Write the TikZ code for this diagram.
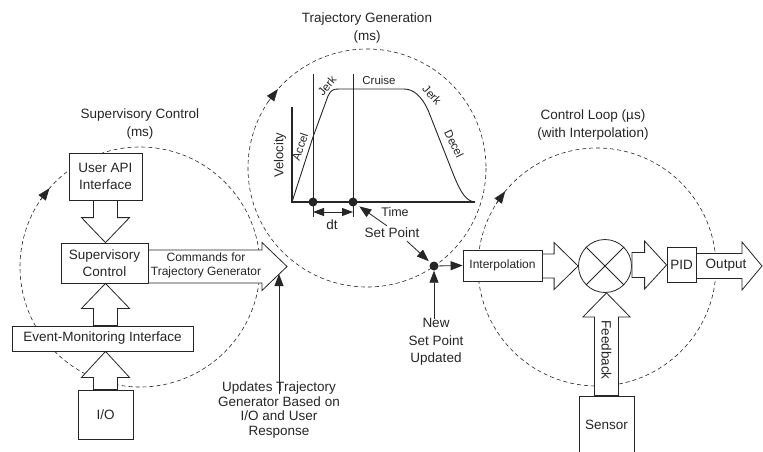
\documentclass[tikz,border=0pt]{standalone}
\usepackage{fontspec}
\setmainfont{Liberation Sans}
\usetikzlibrary{arrows.meta,calc}
\definecolor{ink}{HTML}{262626}

\newcommand{\setfs}[2]{\fontsize{#1}{#2}\selectfont}

% hollow block arrows: #1 start, #2 tip, #3 half shaft, #4 half head, #5 head length
\newcommand{\rightblock}[5]{%
  \draw[blockarr] let \p1=(#1), \p2=(#2) in
    (\x1,\y2+#3) -- (\x2-#5,\y2+#3) -- (\x2-#5,\y2+#4) -- (\x2,\y2)
    -- (\x2-#5,\y2-#4) -- (\x2-#5,\y2-#3) -- (\x1,\y2-#3) -- cycle;}
\newcommand{\upblock}[5]{%
  \draw[blockarr] let \p1=(#1), \p2=(#2) in
    (\x1-#3,\y1) -- (\x1-#3,\y2-#5) -- (\x1-#4,\y2-#5) -- (\x1,\y2)
    -- (\x1+#4,\y2-#5) -- (\x1+#3,\y2-#5) -- (\x1+#3,\y1) -- cycle;}
\newcommand{\downblock}[5]{%
  \draw[blockarr] let \p1=(#1), \p2=(#2) in
    (\x1-#3,\y1) -- (\x1-#3,\y2+#5) -- (\x1-#4,\y2+#5) -- (\x1,\y2)
    -- (\x1+#4,\y2+#5) -- (\x1+#3,\y2+#5) -- (\x1+#3,\y1) -- cycle;}

\begin{document}
\begin{tikzpicture}[x=1pt,y=-1pt,
  every node/.style={text=ink},
  box/.style={draw=ink, fill=white, line width=0.8pt, inner sep=0pt,
    align=center, font=\setfs{13.5}{17}},
  lbl/.style={inner sep=0pt, align=center, font=\setfs{13.5}{18}},
  small/.style={inner sep=0pt, align=center, font=\setfs{11.5}{14}},
  blockarr/.style={draw=ink, fill=white, line width=0.8pt, line join=miter},
  loop/.style={draw=ink, line width=0.6pt, dash pattern=on 4pt off 3pt},
  looptip/.style={loop, -{Triangle[length=12pt,width=9pt]}},
  ptr/.style={draw=ink, line width=0.8pt, -{Triangle[length=12pt,width=9pt]}},
  dot/.style={circle, fill=ink, inner sep=0pt, minimum size=9pt},
  axis/.style={draw=ink, line width=2.2pt},
  thin/.style={draw=ink, line width=0.9pt}]

\path[use as bounding box, fill=white] (0,0) rectangle (763,451);

% --- timing loops -------------------------------------------------------
\coordinate (cL) at (140,267);
\coordinate (cM) at (367,168);
\coordinate (cR) at (597,267);
\draw[loop] (cL) circle[radius=120];
\draw[loop] (cM) circle[radius=119];
\draw[loop] (cR) circle[radius=119];
\draw[looptip] ($(cL)+(214:120)$) -- ($(cL)+(221:120)$);
\draw[looptip] ($(cM)+(214:119)$) -- ($(cM)+(221.5:119)$);
\draw[looptip] ($(cR)+(212:119)$) -- ($(cR)+(219.5:119)$);

% --- titles -------------------------------------------------------------
\node[lbl] (tsup) at (140,124) {Supervisory Control\\(ms)};
\node[lbl] (ttraj) at (367,28) {Trajectory Generation\\(ms)};
\node[lbl] (tloop) at (593,125) {Control Loop (µs)\\(with Interpolation)};

% --- supervisory side ---------------------------------------------------
\node[box, minimum width=73pt, minimum height=47pt] (api) at (105.5,176.5) {User API\\Interface};
\node[box, minimum width=87pt, minimum height=40pt] (sup) at (104.5,263) {Supervisory\\Control};
\node[box, minimum width=181pt, minimum height=25pt] (ev) at (102.5,338.5) {Event-Monitoring Interface};
\node[box, minimum width=55pt, minimum height=49pt] (io) at (105.5,414.5) {I/O};

\downblock{api.south}{sup.north}{12pt}{24pt}{25pt}
\upblock{ev.north -| io.north}{sup.south}{12pt}{24pt}{25pt}
\upblock{io.north}{ev.south}{12pt}{24pt}{26pt}

\coordinate (cmdtip) at (287,266.5);
\rightblock{sup.east}{cmdtip}{16.5pt}{24pt}{25pt}
\node[small, font=\setfs{12}{14.5}] (cmdtxt) at (206,265.5) {Commands for\\Trajectory Generator};

\node[lbl, font=\setfs{13.5}{14.5}] (upd) at (279,410) {Updates Trajectory\\Generator Based on\\I/O and User\\Response};
\coordinate (updtip) at (279,274);
\draw[ptr, shorten <=-12pt] (upd.north) -- (updtip);

% --- velocity profile ---------------------------------------------------
\draw[thin] (313,74) -- (313,217);
\draw[thin] (353,74) -- (353,217);
\draw[axis] (292,107) -- (292,203);
\draw[axis] (291,202) -- (475,202);
\draw[thin, line join=round]
  (292,202) -- (313,137) -- (328,96) .. controls (331,90) and (333,89) .. (339,89)
  -- (404,89) .. controls (414,89) and (422,97) .. (428,110)
  -- (454,176) .. controls (461,193) and (466,201) .. (475,202);

\node[small, rotate=90, font=\setfs{13}{14}] (vel) at (280,155) {Velocity};
\node[small, rotate=71] (acc) at (300,147) {Accel};
\node[small, rotate=50] (jk1) at (327,86) {Jerk};
\node[small] (cru) at (379,80) {Cruise};
\node[small, rotate=-47] (jk2) at (432,95) {Jerk};
\node[small, rotate=-64] (dec) at (454,144) {Decel};

\node[dot] (d1) at (313,202) {};
\node[dot] (d2) at (353,202) {};
\coordinate (dtl) at (313,212);
\coordinate (dtr) at (353,212);
\draw[draw=ink, line width=0.8pt, {Triangle[length=11pt,width=8pt]}-{Triangle[length=11pt,width=8pt]}] (dtl) -- (dtr);
\node[lbl] (dt) at (332,225) {dt};
\node[lbl, font=\setfs{12.5}{14}] (time) at (395,212) {Time};
\node[lbl, inner sep=3pt] (sp) at (392,233) {Set Point};

\node[dot] (newdot) at (434,266) {};
\draw[ptr, shorten >=3pt] ($(sp.north)+(-5,1)$) -- (d2);
\draw[ptr, shorten >=2.5pt] ($(sp.south)+(15,0)$) -- (newdot);

\node[lbl, inner sep=3pt, font=\setfs{13.5}{17.5}] (nsp) at (436,342) {New\\Set Point\\Updated};
\draw[ptr, shorten <=-4pt] (nsp.north -| newdot) -- (newdot);

% --- control loop -------------------------------------------------------
\node[box, font=\setfs{12}{14}, minimum width=79pt, minimum height=31pt] (interp) at (502.5,265.5) {Interpolation};
\node[box, minimum width=29pt, minimum height=35pt] (pid) at (681.5,265) {PID};
\node[box, minimum width=55pt, minimum height=58pt] (sensor) at (606.5,425) {Sensor};
\draw[ptr] (newdot) -- (interp.west);

\node[circle, draw=ink, fill=white, line width=0.8pt, minimum size=53pt, inner sep=0pt] (sum) at (605,266) {};
\draw[draw=ink, line width=0.8pt] (sum.north west) -- (sum.south east);
\draw[draw=ink, line width=0.8pt] (sum.north east) -- (sum.south west);

\rightblock{interp.east}{sum.west}{12pt}{23.5pt}{24pt}
\rightblock{sum.east}{pid.west}{12.5pt}{24pt}{22pt}
\coordinate (outtip) at (762,266);
\rightblock{pid.east}{outtip}{12.5pt}{24pt}{20pt}
\node[lbl] (outtxt) at (726,265) {Output};

\upblock{sensor.north}{sum.south}{12pt}{23.5pt}{24pt}
\node[lbl, rotate=-90] (fbtxt) at (606.5,350) {Feedback};

\end{tikzpicture}
\end{document}
